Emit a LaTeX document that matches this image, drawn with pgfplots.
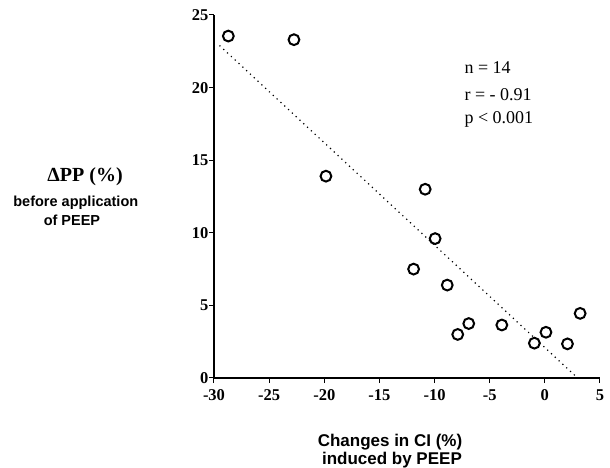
\documentclass[border=0pt]{standalone}
\usepackage{fontspec}
\setmainfont{Liberation Serif}
\newfontfamily\arialfont{Liberation Sans}
\usepackage{pgfplots}
\pgfplotsset{compat=1.18}

\begin{document}
\begin{tikzpicture}
\useasboundingbox (-214pt,-90pt) rectangle (396pt,378pt);
\begin{axis}[
  scale only axis, width=386pt, height=363pt,
  xmin=-30, xmax=5, ymin=0, ymax=25,
  axis lines=left, axis line style={-, line width=1.3pt},
  xtick={-30,-25,-20,-15,-10,-5,0,5},
  xticklabels={-30,-25,-20,-15,-10,-5,0,5},
  ytick={0,5,10,15,20,25},
  yticklabels={0,5,10,15,20,25},
  tick align=outside, major tick length=5pt,
  tick style={line width=1pt, black},
  tick label style={font=\fontsize{16.5}{18}\selectfont\bfseries},
  xticklabel style={yshift=-3pt},
  yticklabel style={xshift=3pt},
  clip=false]
% regression line
\addplot[black, line width=1.2pt, dash pattern=on 1.2pt off 4pt] coordinates {(-29.5,22.9) (2.9,0.05)};
% patients
\addplot[only marks, mark=*, mark size=5.4pt,
  mark options={fill=white, draw=black, line width=2pt}] coordinates {
  (-28.7,23.55) (-22.75,23.3) (-19.85,13.9) (-10.85,13.0) (-9.95,9.6)
  (-11.9,7.5) (-8.85,6.4) (-7.9,3.0) (-6.9,3.75) (-3.9,3.65)
  (-0.95,2.4) (0.1,3.15) (2.05,2.35) (3.2,4.45)};
% stats
\node[anchor=west, font=\fontsize{18}{20}\selectfont] at (axis description cs:0.64,0.854) {n = 14};
\node[anchor=west, font=\fontsize{18}{20}\selectfont] at (axis description cs:0.64,0.780) {r = - 0.91};
\node[anchor=west, font=\fontsize{18}{20}\selectfont] at (axis description cs:0.64,0.711) {p < 0.001};
% y label
\node[font=\fontsize{20}{22}\selectfont\bfseries] at (axis description cs:-0.334,0.554) {ΔPP (\%)};
\node[font=\arialfont\fontsize{14.5}{16}\selectfont\bfseries] at (axis description cs:-0.358,0.482) {before application};
\node[font=\arialfont\fontsize{14.5}{16}\selectfont\bfseries] at (axis description cs:-0.368,0.435) {of PEEP};
% x label
\node[font=\arialfont\fontsize{17}{19}\selectfont\bfseries] at (axis description cs:0.456,-0.176) {Changes in CI (\%)};
\node[font=\arialfont\fontsize{17}{19}\selectfont\bfseries] at (axis description cs:0.461,-0.226) {induced by PEEP};
\end{axis}
\end{tikzpicture}
\end{document}
